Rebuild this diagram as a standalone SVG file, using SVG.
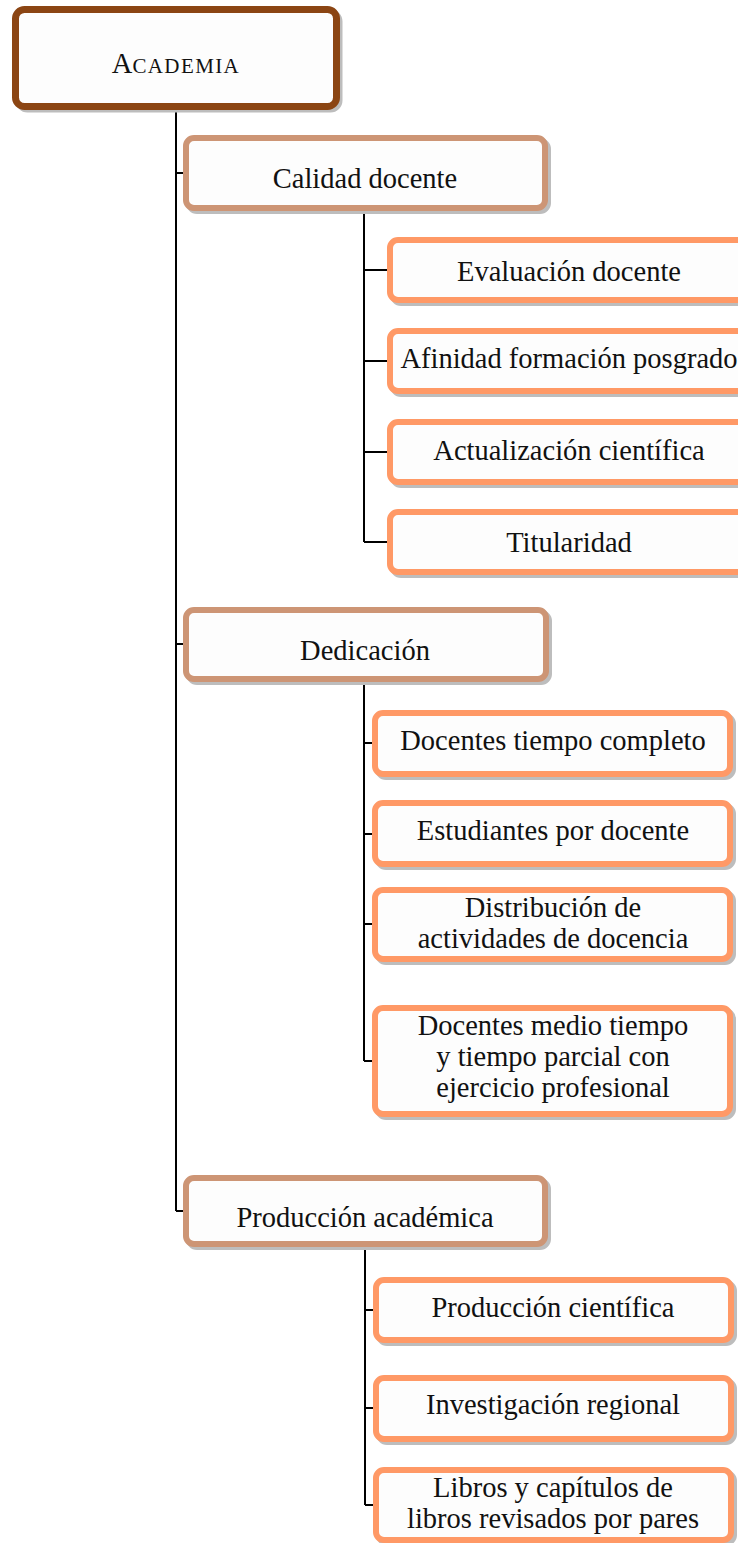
<svg xmlns="http://www.w3.org/2000/svg" width="738" height="1543" viewBox="0 0 738 1543">
<style>
text{font-family:"Liberation Serif","Times New Roman",serif;font-size:28.5px;fill:#111;text-anchor:middle}
.box{fill:#fdfdfd;stroke-width:6}
.sh{fill:#bdbdbd;stroke:#bdbdbd;stroke-width:6}
.l1{stroke:#8b4513;stroke-width:7}
.l2{stroke:#cd9575}
.l3{stroke:#ff9966}
.con{fill:none;stroke:#000;stroke-width:2}
</style>
<rect width="738" height="1543" fill="#fff"/>
<g id="connectors">
<path class="con" d="M176,110V1211M176,173H183M176,644H183M176,1211H183"/>
<path class="con" d="M364,211V542M364,270H387M364,361H387M364,452H387M364,542H387"/>
<path class="con" d="M364,682V1061M364,743H372M364,834H372M364,924H372M364,1061H372"/>
<path class="con" d="M365,1247V1505M365,1310H373M365,1408H373M365,1505H373"/>
</g>
<g id="academia">
<rect class="sh" x="18.5" y="12.5" width="321" height="97" rx="9"/>
<rect class="box l1" x="15.5" y="9.5" width="321" height="97" rx="9"/>
<text x="176" y="73"><tspan>A</tspan><tspan font-size="21" letter-spacing="1.4">CADEMIA</tspan></text>
</g>
<g id="calidad">
<rect class="sh" x="189" y="141" width="359" height="70" rx="8"/>
<rect class="box l2" x="186" y="138" width="359" height="70" rx="8"/>
<text x="365" y="188">Calidad docente</text>
</g>
<g id="evaluacion">
<rect class="sh" x="393" y="243" width="358" height="60" rx="8"/>
<rect class="box l3" x="390" y="240" width="358" height="60" rx="8"/>
<text x="569" y="281">Evaluación docente</text>
</g>
<g id="afinidad">
<rect class="sh" x="393" y="334" width="358" height="60" rx="8"/>
<rect class="box l3" x="390" y="331" width="358" height="60" rx="8"/>
<text x="569" y="368">Afinidad formación posgrado</text>
</g>
<g id="actualizacion">
<rect class="sh" x="393" y="425" width="358" height="60" rx="8"/>
<rect class="box l3" x="390" y="422" width="358" height="60" rx="8"/>
<text x="569" y="460">Actualización científica</text>
</g>
<g id="titularidad">
<rect class="sh" x="393" y="515" width="358" height="60" rx="8"/>
<rect class="box l3" x="390" y="512" width="358" height="60" rx="8"/>
<text x="569" y="552">Titularidad</text>
</g>
<g id="dedicacion">
<rect class="sh" x="189" y="613" width="360" height="69" rx="8"/>
<rect class="box l2" x="186" y="610" width="360" height="69" rx="8"/>
<text x="365" y="660">Dedicación</text>
</g>
<g id="docentes-completo">
<rect class="sh" x="378" y="716" width="355" height="61" rx="8"/>
<rect class="box l3" x="375" y="713" width="355" height="61" rx="8"/>
<text x="553" y="750">Docentes tiempo completo</text>
</g>
<g id="estudiantes">
<rect class="sh" x="378" y="806" width="355" height="61" rx="8"/>
<rect class="box l3" x="375" y="803" width="355" height="61" rx="8"/>
<text x="553" y="840">Estudiantes por docente</text>
</g>
<g id="distribucion">
<rect class="sh" x="378" y="893" width="355" height="69" rx="8"/>
<rect class="box l3" x="375" y="890" width="355" height="69" rx="8"/>
<text x="553" y="917">Distribución de</text>
<text x="553" y="948">actividades de docencia</text>
</g>
<g id="docentes-medio">
<rect class="sh" x="378" y="1011" width="355" height="106" rx="8"/>
<rect class="box l3" x="375" y="1008" width="355" height="106" rx="8"/>
<text x="553" y="1035">Docentes medio tiempo</text>
<text x="553" y="1066">y tiempo parcial con</text>
<text x="553" y="1097">ejercicio profesional</text>
</g>
<g id="produccion-academica">
<rect class="sh" x="189" y="1181" width="359" height="66" rx="8"/>
<rect class="box l2" x="186" y="1178" width="359" height="66" rx="8"/>
<text x="365" y="1227">Producción académica</text>
</g>
<g id="produccion-cientifica">
<rect class="sh" x="379" y="1283" width="355" height="60" rx="8"/>
<rect class="box l3" x="376" y="1280" width="355" height="60" rx="8"/>
<text x="553" y="1317">Producción científica</text>
</g>
<g id="investigacion">
<rect class="sh" x="379" y="1381" width="355" height="61" rx="8"/>
<rect class="box l3" x="376" y="1378" width="355" height="61" rx="8"/>
<text x="553" y="1414">Investigación regional</text>
</g>
<g id="libros">
<rect class="sh" x="379" y="1473" width="355" height="70" rx="8"/>
<rect class="box l3" x="376" y="1470" width="355" height="70" rx="8"/>
<text x="553" y="1497">Libros y capítulos de</text>
<text x="553" y="1528">libros revisados por pares</text>
</g>
</svg>
